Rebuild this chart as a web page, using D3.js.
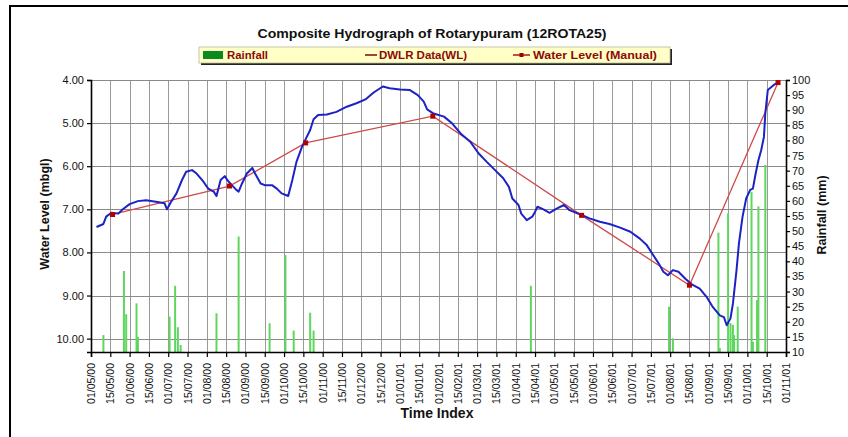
<!DOCTYPE html>
<html>
<head>
<meta charset="utf-8">
<script src="https://cdn.jsdelivr.net/npm/d3@7"></script>
<style>
  html, body { margin: 0; padding: 0; background: #fff; }
  svg { display: block; font-family: "Liberation Sans", Arial, sans-serif; }
</style>
</head>
<body>
<svg id="chart" width="848" height="437"></svg>
<script>
// ---------------- data ----------------
const tickLabels = ["01/05/00","15/05/00","01/06/00","15/06/00","01/07/00","15/07/00","01/08/00","15/08/00",
  "01/09/00","15/09/00","01/10/00","15/10/00","01/11/00","15/11/00","01/12/00","15/12/00",
  "01/01/01","15/01/01","01/02/01","15/02/01","01/03/01","15/03/01","01/04/01","15/04/01",
  "01/05/01","15/05/01","01/06/01","15/06/01","01/07/01","15/07/01","01/08/01","15/08/01",
  "01/09/01","15/09/01","01/10/01","15/10/01","01/11/01"];
const levelTicks = [4, 5, 6, 7, 8, 9, 10];
const rainTicks = [10,15,20,25,30,35,40,45,50,55,60,65,70,75,80,85,90,95,100];

// DWLR continuous record (water level, m below ground level)
const dwlrDates = ["2000-05-05","2000-05-10","2000-05-12","2000-05-16","2000-05-22","2000-05-26","2000-06-01","2000-06-07",
  "2000-06-13","2000-06-22","2000-06-28","2000-06-30","2000-07-03","2000-07-07","2000-07-11","2000-07-14",
  "2000-07-19","2000-07-23","2000-07-29","2000-08-02","2000-08-06","2000-08-08","2000-08-11","2000-08-14",
  "2000-08-16","2000-08-20","2000-08-24","2000-08-26","2000-08-29","2000-09-02","2000-09-06","2000-09-08",
  "2000-09-12","2000-09-15","2000-09-21","2000-09-25","2000-09-29","2000-10-04","2000-10-07","2000-10-10",
  "2000-10-14","2000-10-18","2000-10-21","2000-10-24","2000-10-28","2000-11-04","2000-11-11","2000-11-19",
  "2000-11-27","2000-12-04","2000-12-10","2000-12-17","2000-12-23","2001-01-01","2001-01-08","2001-01-14",
  "2001-01-19","2001-01-22","2001-01-27","2001-02-05","2001-02-11","2001-02-17","2001-02-24","2001-03-02",
  "2001-03-08","2001-03-14","2001-03-21","2001-03-26","2001-03-29","2001-04-03","2001-04-05","2001-04-09",
  "2001-04-13","2001-04-15","2001-04-17","2001-04-22","2001-04-27","2001-05-03","2001-05-08","2001-05-12",
  "2001-05-21","2001-05-29","2001-06-06","2001-06-13","2001-06-21","2001-06-30","2001-07-07","2001-07-12",
  "2001-07-17","2001-07-22","2001-07-26","2001-07-30","2001-08-03","2001-08-07","2001-08-12","2001-08-17",
  "2001-08-24","2001-08-30","2001-09-04","2001-09-09","2001-09-12","2001-09-14","2001-09-17","2001-09-19",
  "2001-09-22","2001-09-24","2001-09-27","2001-09-30","2001-10-03","2001-10-05","2001-10-07","2001-10-09",
  "2001-10-11","2001-10-13","2001-10-14","2001-10-16","2001-10-21","2001-10-26"];
const dwlrLevels = [7.41,7.34,7.17,7.08,7.10,7.00,6.88,6.81,
  6.79,6.83,6.86,7.00,6.83,6.63,6.32,6.13,
  6.09,6.17,6.36,6.52,6.59,6.69,6.32,6.23,
  6.32,6.44,6.55,6.59,6.40,6.17,6.04,6.17,
  6.40,6.44,6.44,6.52,6.63,6.69,6.32,5.90,
  5.55,5.32,5.16,4.91,4.81,4.80,4.74,4.62,
  4.54,4.45,4.29,4.15,4.19,4.22,4.23,4.35,
  4.50,4.68,4.77,4.85,5.01,5.24,5.43,5.70,
  5.90,6.09,6.28,6.48,6.75,6.90,7.10,7.25,
  7.17,7.06,6.94,7.00,7.08,6.98,6.90,7.02,
  7.12,7.21,7.29,7.34,7.42,7.52,7.68,7.83,
  8.06,8.26,8.45,8.53,8.41,8.45,8.61,8.74,
  8.84,9.03,9.27,9.46,9.50,9.69,9.53,9.19,
  8.41,7.79,7.17,6.75,6.55,6.52,6.17,5.86,
  5.63,5.32,4.77,4.23,4.12,4.04];

// Manual water level observations
const manualDates = ["2000-05-17","2000-08-18","2000-10-17","2001-01-27","2001-05-22","2001-08-15","2001-10-25"];
const manualLevels = [7.12, 6.46, 5.46, 4.84, 7.14, 8.76, 4.06];

// Daily rainfall (mm)
const rainDates = ["2000-05-10","2000-05-27","2000-05-29","2000-06-06","2000-06-07","2000-07-02","2000-07-06","2000-07-08",
  "2000-07-10","2000-08-08","2000-08-26","2000-09-19","2000-10-02","2000-10-08","2000-10-21","2000-10-24",
  "2001-04-12","2001-07-31","2001-08-03","2001-09-08","2001-09-09","2001-09-15","2001-09-17","2001-09-19",
  "2001-09-20","2001-09-23","2001-10-04","2001-10-05","2001-10-08","2001-10-09","2001-10-14"];
const rainValues = [15.6,36.8,22.5,26.1,15.0,21.7,31.9,18.2,
  12.3,22.8,48.2,19.5,42.1,17.1,23.0,17.1,
  31.9,25.0,14.5,49.5,11.3,55.9,19.6,19.0,
  15.6,25.0,63.0,13.4,27.2,58.2,71.9];

// ---------------- layout ----------------
const svg = d3.select("#chart");
const L = 91, R = 786, T = 80, B = 352;
const parseTick = d3.timeParse("%d/%m/%y");
const parseISO = d3.timeParse("%Y-%m-%d");
const tickDates = tickLabels.map(parseTick);
const step = (R - L) / (tickDates.length - 1);

const x = d3.scaleTime().domain(tickDates).range(tickDates.map((d, i) => L + i * step));
const yL = d3.scaleLinear().domain([4, 10.31]).range([T, B]);
const yR = d3.scaleLinear().domain([10, 100]).range([B, T]);

// outer frame
svg.append("rect").attr("x", 10).attr("y", 6).attr("width", 900).attr("height", 500)
  .attr("fill", "none").attr("stroke", "#000").attr("stroke-width", 2);

// title
svg.append("text").attr("x", 432).attr("y", 37.5).attr("text-anchor", "middle")
  .attr("font-size", 13).attr("font-weight", "bold").attr("fill", "#111")
  .attr("textLength", 349).attr("lengthAdjust", "spacingAndGlyphs")
  .text("Composite Hydrograph of Rotarypuram (12ROTA25)");

// legend
const lg = svg.append("g");
lg.append("rect").attr("x", 201).attr("y", 49).attr("width", 471).attr("height", 16).attr("fill", "#222");
lg.append("rect").attr("x", 199).attr("y", 47).attr("width", 471).attr("height", 16)
  .attr("fill", "#ffffc6").attr("stroke", "#b8b8a0").attr("stroke-width", 0.8);
lg.append("rect").attr("x", 203).attr("y", 51).attr("width", 20).attr("height", 8).attr("fill", "#0b8a1e");
const legText = "#8b0a0a";
lg.append("text").attr("x", 227).attr("y", 59).attr("font-size", 11).attr("font-weight", "bold")
  .attr("fill", legText).attr("textLength", 41).attr("lengthAdjust", "spacingAndGlyphs").text("Rainfall");
lg.append("line").attr("x1", 365).attr("x2", 377).attr("y1", 55).attr("y2", 55)
  .attr("stroke", "#7a0a0a").attr("stroke-width", 1.5);
lg.append("text").attr("x", 379).attr("y", 59).attr("font-size", 11).attr("font-weight", "bold")
  .attr("fill", legText).attr("textLength", 88).attr("lengthAdjust", "spacingAndGlyphs").text("DWLR Data(WL)");
lg.append("line").attr("x1", 513).attr("x2", 530).attr("y1", 55).attr("y2", 55)
  .attr("stroke", "#b01515").attr("stroke-width", 1.5);
lg.append("rect").attr("x", 519.5).attr("y", 53).attr("width", 4).attr("height", 4).attr("fill", "#a00000");
lg.append("text").attr("x", 533).attr("y", 59).attr("font-size", 11).attr("font-weight", "bold")
  .attr("fill", legText).attr("textLength", 124).attr("lengthAdjust", "spacingAndGlyphs").text("Water Level (Manual)");

// gridlines
const grid = svg.append("g");
grid.selectAll("line.v").data(tickDates.slice(1, -1)).join("line")
  .attr("x1", d => Math.round(x(d)) + 0.5).attr("x2", d => Math.round(x(d)) + 0.5)
  .attr("y1", T).attr("y2", B).attr("stroke", "#9a9a9a").attr("stroke-width", 1);
grid.selectAll("line.h").data(levelTicks).join("line")
  .attr("x1", L).attr("x2", R)
  .attr("y1", d => Math.round(yL(d)) + 0.5).attr("y2", d => Math.round(yL(d)) + 0.5)
  .attr("stroke", "#8a8a8a").attr("stroke-width", 1);

// rainfall bars
svg.append("g").selectAll("rect").data(rainDates.map((d, i) => ({ date: parseISO(d), v: rainValues[i] })))
  .join("rect")
  .attr("x", d => x(d.date) - 1).attr("width", 2)
  .attr("y", d => yR(d.v)).attr("height", d => B - yR(d.v))
  .attr("fill", "#5fd65f");

// manual line
const manual = manualDates.map((d, i) => ({ date: parseISO(d), v: manualLevels[i] }));
svg.append("path").datum(manual)
  .attr("d", d3.line().x(d => x(d.date)).y(d => yL(d.v)))
  .attr("fill", "none").attr("stroke", "#d04a4a").attr("stroke-width", 1.3);

// DWLR line
const dwlr = dwlrDates.map((d, i) => ({ date: parseISO(d), v: dwlrLevels[i] }));
svg.append("path").datum(dwlr)
  .attr("d", d3.line().x(d => x(d.date)).y(d => yL(d.v)))
  .attr("fill", "none").attr("stroke", "#1c22c4").attr("stroke-width", 2).attr("stroke-linejoin", "round");

// manual markers
svg.append("g").selectAll("rect").data(manual).join("rect")
  .attr("x", d => x(d.date) - 2.5).attr("y", d => yL(d.v) - 2.5)
  .attr("width", 5).attr("height", 5).attr("fill", "#b00000");

// axes
const axL = svg.append("g").attr("transform", `translate(${L},0)`)
  .call(d3.axisLeft(yL).tickValues(levelTicks).tickFormat(d3.format(".2f")).tickSize(4).tickPadding(3));
axL.selectAll("text").attr("font-size", 11).attr("fill", "#111").attr("font-family", "Liberation Sans, Arial, sans-serif");

const axR = svg.append("g").attr("transform", `translate(${R},0)`)
  .call(d3.axisRight(yR).tickValues(rainTicks).tickSize(4).tickPadding(2));
axR.selectAll("text").attr("font-size", 11).attr("fill", "#111").attr("font-family", "Liberation Sans, Arial, sans-serif");

const axB = svg.append("g").attr("transform", `translate(0,${B})`)
  .call(d3.axisBottom(x).tickValues(tickDates).tickFormat((d, i) => tickLabels[i]).tickSize(5));
axB.selectAll("text")
  .attr("transform", "rotate(-90)").attr("text-anchor", "end")
  .attr("x", -11).attr("y", 3.5).attr("dy", 0)
  .attr("font-size", 10.5).attr("fill", "#111").attr("font-family", "Liberation Sans, Arial, sans-serif");

[axL, axR, axB].forEach(a => {
  a.select(".domain").attr("stroke", "#000").attr("stroke-width", 1.6);
  a.selectAll(".tick line").attr("stroke", "#000").attr("stroke-width", 1.2);
});

// axis titles
svg.append("text").attr("transform", "translate(49,214) rotate(-90)").attr("text-anchor", "middle")
  .attr("font-size", 12.5).attr("font-weight", "bold").attr("fill", "#111").text("Water Level (mbgl)");
svg.append("text").attr("transform", "translate(826,215) rotate(-90)").attr("text-anchor", "middle")
  .attr("font-size", 12.5).attr("font-weight", "bold").attr("fill", "#111").text("Rainfall (mm)");
svg.append("text").attr("x", 437).attr("y", 418).attr("text-anchor", "middle")
  .attr("font-size", 14).attr("font-weight", "bold").attr("fill", "#111").text("Time Index");
</script>
</body>
</html>
